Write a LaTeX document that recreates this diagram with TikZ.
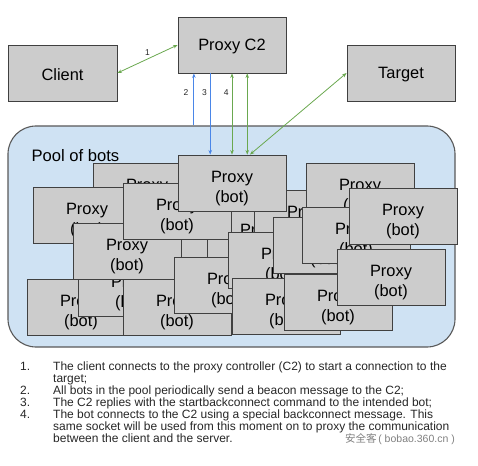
\documentclass[tikz,border=0pt]{standalone}
\usepackage{fontspec}
\setmainfont{Liberation Sans}
\newfontfamily\cjk{Noto Sans CJK SC}
\usetikzlibrary{calc,arrows.meta}

\definecolor{boxgray}{HTML}{CCCCCC}
\definecolor{boxline}{HTML}{404040}
\definecolor{poolblue}{HTML}{CFE2F3}
\definecolor{poolline}{HTML}{595959}
\definecolor{linkgreen}{HTML}{6AA84F}
\definecolor{linkblue}{HTML}{4A86E8}
\definecolor{notegray}{HTML}{262626}

% the text of a box, pushed down a little
\newcommand\boxname[1]{\rule{0pt}{15pt}#1}
\newcommand\botname{\rule{0pt}{22pt}Proxy\\(bot)}

\tikzset{
  box/.style={draw=boxline, fill=boxgray, line width=0.9pt, inner sep=0pt,
    minimum width=108pt, minimum height=56pt, align=center,
    font=\fontsize{16.4}{20}\selectfont},
  pool/.style={draw=poolline, fill=poolblue, line width=1.1pt,
    rounded corners=28pt, minimum width=447pt, minimum height=221pt},
  green link/.style={draw=linkgreen, line width=0.8pt, <->},
  blue link/.style={draw=linkblue, line width=0.9pt, ->},
  stepno/.style={font=\fontsize{8.5}{10}\selectfont, text=notegray, inner sep=1pt},
  note/.style={font=\fontsize{12}{12}\selectfont, text=notegray, inner sep=0pt}
}

\begin{document}
\begin{tikzpicture}[x=1pt, y=-1pt, >={Stealth[length=4.5pt,width=3.5pt]}]
    \useasboundingbox (0,0) rectangle (478,465);

    % The top row: client, controller and target
    \node [box] (c2) at (232,45) {\boxname{Proxy C2}};
    \node [box, minimum width=109pt] (client) at (62.5,73) {\boxname{Client}};
    \node [box] (target) at (401,73) {\boxname{Target}};

    % The pool and its label
    \node [pool] (pool) at (231.5,236.5) {};
    \node [anchor=west, font=\fontsize{16.6}{20}\selectfont] (pool label)
        at (28,156) {Pool of bots};

    % Pile up the bots, back to front
    \foreach \n/\x/\y in {u/153/258, i/261/236, a/147/191, b/87/215,
        e/81/307, f/132/288, d/127/251, c/177/211, j/308/218, g/177/307,
        h/228/285, o/282/260, p/286/306, n/327/245, k/360/191, l/356/235,
        q/338/302, m/403/216, r/391/277}
      \node [box] (bot \n) at (\x,\y) {\botname};
    % The bot on top, the one the C2 picks
    \node [box] (bot) at (232,183) {\botname};

    % Where the links meet the C2 and the bot
    \foreach \k/\f in {2/.15, 3/.3, 4/.5, 5/.64} {
      \coordinate (c2 \k) at ($(c2.south west)!\f!(c2.south east)$);
      \coordinate (bot \k) at ($(bot.north west)!\f!(bot.north east)$);
    }

    % 1: client to C2
    \draw [green link] (client.east) -- (c2.west)
        node [midway, above, stepno, yshift=2pt] (step 1) {1};
    % 2: beacon from the pool
    \draw [blue link] (c2 2 |- pool.north) -- (c2 2)
        node [pos=.63, left=4pt, stepno] (step 2) {2};
    % 3: startbackconnect to the bot
    \draw [blue link] (c2 3) -- (bot 3)
        node [pos=.24, left=2pt, stepno] (step 3) {3};
    % 4: the backconnect, then the proxied traffic
    \draw [green link] (c2 4) -- (bot 4)
        node [pos=.24, left=2pt, stepno] (step 4) {4};
    \draw [green link] (c2 5) -- (bot 5);
    \draw [green link] (bot.north) ++(18pt,0) coordinate (bot 6) (bot 6) -- (target.west);

    % The steps, written out
    \foreach \k/\y in {1/370, 2/394, 3/406, 4/418}
      \node [note, anchor=base west] (num \k) at (20,\y) {\k.};
    \node [note, anchor=north west, align=left] (note 1) at (53,361.2)
        {The client connects to the proxy controller (C2) to start a connection to the\\target;};
    \node [note, anchor=north west, align=left] (note 2) at (53,385.2)
        {All bots in the pool periodically send a beacon message to the C2;};
    \node [note, anchor=north west, align=left] (note 3) at (53,397.2)
        {The C2 replies with the startbackconnect command to the intended bot;};
    \node [note, anchor=north west, align=left] (note 4) at (53,409.2)
        {The bot connects to the C2 using a special backconnect message. This\\same socket will be used from this moment on to proxy the communication\\between the client and the server.};
    \node [anchor=base east, inner sep=0pt, text=gray, font=\fontsize{10.5}{12}\selectfont]
        (mark) at (455,442) {{\cjk 安全客}\,( bobao.360.cn )};
\end{tikzpicture}
\end{document}
